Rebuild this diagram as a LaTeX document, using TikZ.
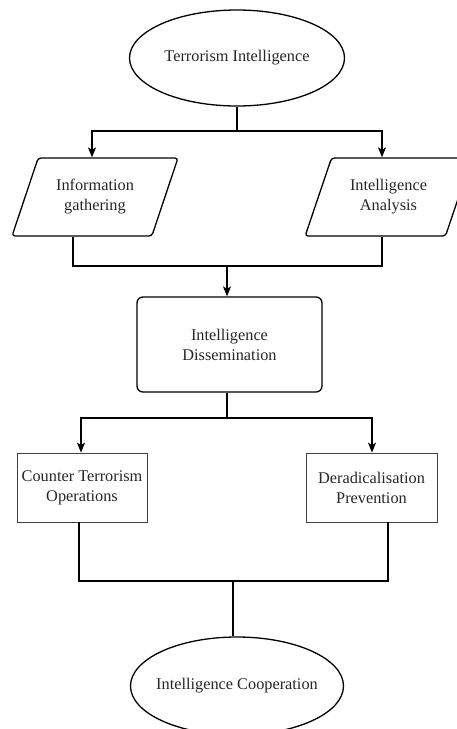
\documentclass[tikz,border=0pt]{standalone}
\usepackage{fontspec}
\setmainfont{Liberation Serif}
\newfontfamily\boxfont{Liberation Serif}
\usepackage{tikz}
\usetikzlibrary{arrows.meta}
\usetikzlibrary{shapes}
\usetikzlibrary{positioning}

\begin{document}
\begin{tikzpicture}[x=1pt,y=-1pt]
        \useasboundingbox (0,0) rectangle (456,729);
        \begin{scope}[every node/.style={draw,line width=1.3pt,align=center,text=black!85,
                font=\boxfont\fontsize{16.3}{20}\selectfont}]
        \node[ellipse,inner sep=0pt,inner xsep=-30pt,minimum width=215,minimum height=96] (ti) at (237,58) {Terrorism Intelligence};
        \node[trapezium,trapezium left angle=65,trapezium right angle=115,trapezium stretches=true,
              rounded corners=3pt,minimum width=166,minimum height=78] (ig) at (95,197) {Information\\gathering};
        \node[trapezium,trapezium left angle=65,trapezium right angle=115,trapezium stretches=true,
              rounded corners=3pt,minimum width=167,minimum height=78] (ia) at (388.5,197) {Intelligence\\Analysis};
        \node[rectangle,rounded corners=6pt,minimum width=185,minimum height=95] (id) at (229.5,344.5) {Intelligence\\Dissemination};
        \node[rectangle,line width=0.8pt,draw=black!75,minimum width=130,minimum height=69] (ct) at (82,487.5) {Counter Terrorism\\Operations};
        \node[rectangle,line width=0.8pt,draw=black!75,minimum width=131,minimum height=69] (dp) at (371.5,487.5) {Deradicalisation\\Prevention};
        \node[ellipse,inner sep=0pt,inner xsep=-30pt,minimum width=213,minimum height=98] (ic) at (237,686) {Intelligence Cooperation};
        \end{scope}
        % junctions
        \coordinate (j1) at (237,131);
        \coordinate (j1l) at (92,131);
        \coordinate (j1r) at (382,131);
        \coordinate (j2) at (227,266);
        \coordinate (j2l) at (73,266);
        \coordinate (j2r) at (382,266);
        \coordinate (j3) at (227,418);
        \coordinate (j3l) at (81,418);
        \coordinate (j3r) at (372,418);
        \coordinate (j4) at (233,581);
        \coordinate (j4l) at (79,581);
        \coordinate (j4r) at (388,581);
        \begin{scope}[line width=1.3pt,
                every path/.style={line join=miter},
                arr/.style={-{Stealth[length=10pt,width=8pt,inset=2.5pt]}}]
        \draw (ti) -- (j1);
        \draw[arr] (j1) -- (j1l) -- (j1l |- ig.north);
        \draw[arr] (j1) -- (j1r) -- (j1r |- ia.north);
        \draw (j2l |- ig.south) -- (j2l) -- (j2r) -- (j2r |- ia.south);
        \draw[arr] (j2) -- (j2 |- id.north);
        \draw (j3 |- id.south) -- (j3);
        \draw[arr] (j3) -- (j3l) -- (j3l |- ct.north);
        \draw[arr] (j3) -- (j3r) -- (j3r |- dp.north);
        \draw (j4l |- ct.south) -- (j4l) -- (j4r) -- (j4r |- dp.south);
        \draw (j4) -- (j4 |- ic.north);
        \end{scope}
\end{tikzpicture}
\end{document}
